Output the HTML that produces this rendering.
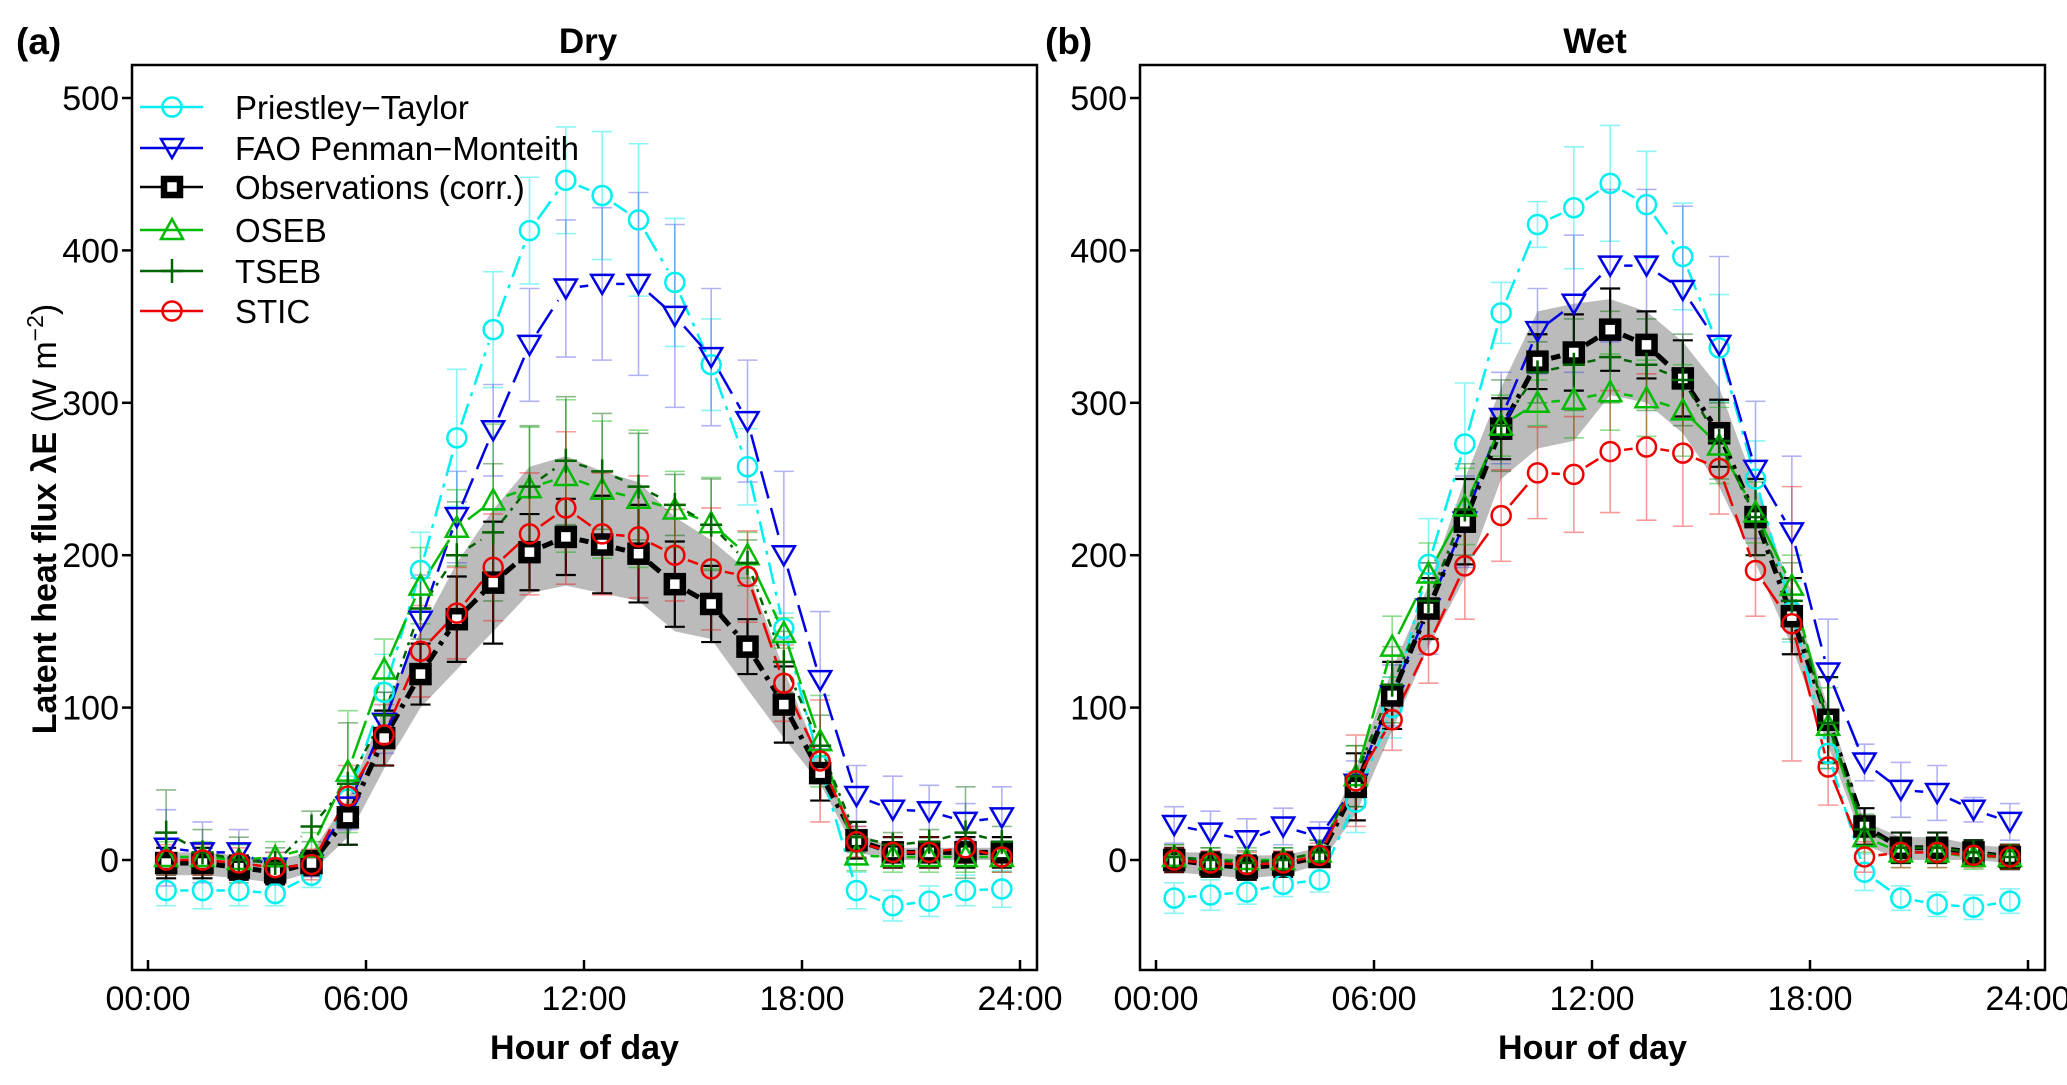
<!DOCTYPE html>
<html><head><meta charset="utf-8"><style>
body{margin:0;background:#fff}
svg{display:block;font-family:"Liberation Sans",Arial,sans-serif}
</style></head><body>
<svg id="fig" width="2067" height="1085" viewBox="0 0 2067 1085" xmlns="http://www.w3.org/2000/svg">
<rect width="2067" height="1085" fill="#fff"/>
</svg>
<script>
const hours=[0.5,1.5,2.5,3.5,4.5,5.5,6.5,7.5,8.5,9.5,10.5,11.5,12.5,13.5,14.5,15.5,16.5,17.5,18.5,19.5,20.5,21.5,22.5,23.5];
const yTicks=[0,100,200,300,400,500];
const xTickHours=[0,6,12,18,24];
const xTickLabels=["00:00","06:00","12:00","18:00","24:00"];
const seriesNames=["Priestley\u2212Taylor","FAO Penman\u2212Monteith","Observations (corr.)","OSEB","TSEB","STIC"];
// Dry
const dryPT=[-20,-20,-20,-22,-10,40,110,190,277,348,413,446,436,420,379,325,258,152,62,-20,-30,-27,-20,-19];
const dryFAO=[8,5,5,-5,-3,35,90,157,225,282,338,375,378,378,357,330,288,200,118,42,33,32,25,28];
const dryObs=[-2,-2,-5,-8,-2,28,80,122,158,182,202,212,207,201,181,168,140,102,57,13,5,5,5,5];
const dryOSEB=[2,2,0,2,8,58,125,180,218,236,244,252,243,237,230,221,200,149,78,3,2,2,2,2];
const dryTSEB=[18,5,0,-2,22,50,95,165,200,215,245,262,255,245,233,220,195,130,75,15,10,12,18,12];
const drySTIC=[0,0,-2,-5,-3,42,82,137,162,192,214,231,214,212,200,191,186,116,65,12,5,5,8,2];
const dryBandHi=[5,5,3,0,5,40,100,150,195,230,258,265,255,248,225,210,190,125,65,18,8,8,8,8];
const dryBandLo=[-10,-10,-12,-15,-8,15,60,100,125,150,175,180,175,170,150,145,112,80,50,5,0,0,0,0];
const dryErrPT=[10,12,10,8,8,15,25,25,45,38,35,35,42,50,42,30,25,10,10,12,10,10,10,12];
const dryErrFAO=[25,20,15,10,8,15,20,30,30,30,37,45,50,60,60,45,40,55,45,20,22,17,12,20];
const dryErrObs=[10,10,8,8,8,18,18,20,28,40,25,25,32,32,28,25,18,25,18,12,10,10,10,10];
const dryErrOSEB=[10,10,10,10,10,40,20,25,25,50,40,50,45,45,25,30,15,10,30,10,10,10,10,10];
const dryErrTSEB=[28,15,15,10,10,40,15,20,35,45,40,42,38,35,20,30,15,20,20,10,8,8,30,10];
const dryErrSTIC=[10,10,10,10,10,20,20,30,30,35,40,50,40,40,30,40,30,25,40,10,10,10,10,10];
// Wet
const wetPT=[-25,-23,-21,-16,-13,38,100,194,273,359,417,428,444,430,396,336,250,163,70,-8,-25,-29,-31,-27];
const wetFAO=[23,18,13,22,15,50,108,165,222,290,347,365,390,390,374,338,256,215,123,64,46,44,33,25];
const wetObs=[0,-3,-5,-3,2,48,108,165,222,283,327,333,348,338,316,280,225,160,92,22,8,8,5,2];
const wetOSEB=[2,0,0,0,5,55,140,188,232,285,300,302,307,303,295,272,228,180,88,15,5,5,2,2];
const wetTSEB=[2,0,-2,0,5,55,115,170,230,285,320,325,330,325,315,275,225,170,90,20,8,8,5,2];
const wetSTIC=[0,-2,-3,-2,3,52,92,141,193,226,254,253,268,271,267,257,190,155,61,2,5,5,3,2];
const wetBandHi=[5,5,3,3,8,60,125,180,250,310,360,365,368,360,340,310,245,175,100,25,15,15,10,8];
const wetBandLo=[-8,-10,-12,-10,-3,30,85,140,185,250,270,275,305,300,280,245,195,140,75,10,0,0,0,-2];
const wetErrPT=[10,10,8,8,8,20,20,30,40,20,15,40,38,35,35,35,25,20,10,12,8,8,8,8];
const wetErrFAO=[12,14,14,12,10,15,20,30,30,30,28,45,50,50,55,58,45,50,35,12,18,18,8,12];
const wetErrObs=[8,8,8,8,6,22,22,20,28,20,18,25,27,22,25,22,25,25,28,12,10,10,8,8];
const wetErrOSEB=[8,8,8,8,8,20,20,20,25,20,15,25,25,25,30,25,20,20,25,10,10,10,8,8];
const wetErrTSEB=[8,8,8,8,8,20,25,25,30,30,20,30,30,30,30,25,25,25,30,10,10,10,8,8];
const wetErrSTIC=[8,8,8,8,8,30,20,25,35,30,30,38,40,48,48,30,30,90,25,10,10,10,8,8];

const NS="http://www.w3.org/2000/svg";
const svg=document.getElementById('fig');
function el(tag,attrs,parent,text){const e=document.createElementNS(NS,tag);for(const k in attrs)e.setAttribute(k,attrs[k]);if(text!==undefined)e.textContent=text;(parent||svg).appendChild(e);return e;}

const styles=[
 {key:'PT',color:'#00f0f0',err:'rgba(0,230,230,0.45)',marker:'circle',dash:'22,8,4,8',w:2.5},
 {key:'FAO',color:'#0000e6',err:'rgba(60,60,230,0.4)',marker:'tri',dash:'28,10',w:2.5},
 {key:'Obs',color:'#000',err:'#000',marker:'square',dash:'14,7,4,7',w:5},
 {key:'OSEB',color:'#00bb00',err:'rgba(0,180,0,0.45)',marker:'uptri',dash:'40,6',w:2.5},
 {key:'TSEB',color:'#006400',err:'rgba(0,100,0,0.45)',marker:'plus',dash:'8,6,3,6',w:2.5},
 {key:'STIC',color:'#ee0000',err:'rgba(240,0,0,0.4)',marker:'circle',dash:'26,9',w:2.5}
];

function marker(g,type,x,y,color,name){
 let m;
 if(type==='circle')m=el('circle',{cx:x,cy:y,r:9.5,fill:'none',stroke:color,'stroke-width':2.5},g);
 else if(type==='tri')m=el('polygon',{points:`${x-11},${y-9} ${x+11},${y-9} ${x},${y+10}`,fill:'none',stroke:color,'stroke-width':2.5},g);
 else if(type==='uptri')m=el('polygon',{points:`${x-11},${y+9} ${x+11},${y+9} ${x},${y-11}`,fill:'none',stroke:color,'stroke-width':2.5},g);
 else if(type==='square')m=el('rect',{x:x-8,y:y-8,width:16,height:16,fill:'#fff',stroke:color,'stroke-width':6.5},g);
 else m=el('path',{d:`M${x-11},${y}H${x+11}M${x},${y-12}V${y+12}`,stroke:color,'stroke-width':2.5,fill:'none'},g);
 
 
}

function panel(p){
 const L=p.left,R=L+905,T=65,B=970;
 const xs=h=>p.x0+h*(218/6);
 const ys=v=>860-v*1.524;
 const g=el('g',{});
 
 
 let d='M'+hours.map((h,i)=>xs(h)+','+ys(p.bandHi[i])).join('L');
 for(let i=hours.length-1;i>=0;i--)d+='L'+xs(hours[i])+','+ys(p.bandLo[i]);
 const band=el('path',{d:d+'Z',fill:'#b4b4b4',opacity:0.9},g);
 
 
 styles.forEach((s,si)=>{
  const vals=p.series[si],errs=p.errs[si];
  const eg=el('g',{stroke:s.err,'stroke-width':s.key==='Obs'?2.2:1.6,fill:'none'},g);
  
  
  hours.forEach((h,i)=>{
   const x=xs(h),y1=ys(vals[i]+errs[i]),y2=ys(vals[i]-errs[i]);
   el('path',{d:`M${x},${y1}V${y2}M${x-10},${y1}H${x+10}M${x-10},${y2}H${x+10}`},eg);
  });
 });
 styles.forEach((s,si)=>{
  const vals=p.series[si];
  const lg=el('g',{stroke:s.color,'stroke-width':s.w,fill:'none','stroke-dasharray':s.dash},g);
  
  
  for(let i=0;i<hours.length-1;i++){
   const x1=xs(hours[i]),y1=ys(vals[i]),x2=xs(hours[i+1]),y2=ys(vals[i+1]);
   const len=Math.hypot(x2-x1,y2-y1),gap=14;
   if(len<=2*gap+2)continue;
   const ux=(x2-x1)/len,uy=(y2-y1)/len;
   el('line',{x1:x1+ux*gap,y1:y1+uy*gap,x2:x2-ux*gap,y2:y2-uy*gap},lg);
  }
 });
 styles.forEach((s,si)=>{
  const vals=p.series[si];
  const mg=el('g',{},g);
  
  
  hours.forEach((h,i)=>marker(mg,s.marker,xs(h),ys(vals[i]),s.color,'point'));
 });
 const fr=el('rect',{x:L,y:T,width:R-L,height:B-T,fill:'none',stroke:'#000','stroke-width':2.5},g);
 
 
 const ya=el('g',{'font-size':34,fill:'#000'},g);
 
 
 yTicks.forEach(v=>{
  el('line',{x1:L-10,x2:L,y1:ys(v),y2:ys(v),stroke:'#000','stroke-width':2.5},ya);
  el('text',{x:L-13,y:ys(v)+12,'text-anchor':'end'},ya,String(v));
 });
 const xa=el('g',{'font-size':34,fill:'#000'},g);
 
 
 xTickHours.forEach((h,i)=>{
  el('line',{x1:xs(h),x2:xs(h),y1:B,y2:B-10,stroke:'#000','stroke-width':2.5},xa);
  el('text',{x:xs(h),y:1010,'text-anchor':'middle'},xa,xTickLabels[i]);
 });
 const xt=el('text',{x:(L+R)/2,y:1059,'text-anchor':'middle','font-size':34,'font-weight':'bold'},g,'Hour of day');
 
 
 const tt=el('text',{x:p.titleX,y:53,'text-anchor':'middle','font-size':35,'font-weight':'bold'},g,p.title);
 
 
 const pl=el('text',{x:p.labelX,y:54,'font-size':37,'font-weight':'bold'},g,p.label);
 
 
 return {g,xs,ys};
}

panel({id:'dry',left:132,x0:148,title:'Dry',titleX:588,label:'(a)',labelX:16,
 series:[dryPT,dryFAO,dryObs,dryOSEB,dryTSEB,drySTIC],
 errs:[dryErrPT,dryErrFAO,dryErrObs,dryErrOSEB,dryErrTSEB,dryErrSTIC],
 bandHi:dryBandHi,bandLo:dryBandLo});
panel({id:'wet',left:1140,x0:1156,title:'Wet',titleX:1595,label:'(b)',labelX:1045,
 series:[wetPT,wetFAO,wetObs,wetOSEB,wetTSEB,wetSTIC],
 errs:[wetErrPT,wetErrFAO,wetErrObs,wetErrOSEB,wetErrTSEB,wetErrSTIC],
 bandHi:wetBandHi,bandLo:wetBandLo});

const yt=el('text',{transform:'translate(56,519) rotate(-90)','text-anchor':'middle','font-size':34},svg);


el('tspan',{'font-weight':'bold'},yt,'Latent heat flux \u03bbE ');
el('tspan',{},yt,'(W m');
el('tspan',{'font-size':23,dy:-13},yt,'\u22122');
el('tspan',{dy:13},yt,')');

const lgd=el('g',{},svg);


const legY=[107,148,187,230,271,311];
styles.forEach((s,i)=>{
 const e=el('g',{},lgd);
 
 
 el('line',{x1:140,x2:203,y1:legY[i],y2:legY[i],stroke:s.color,'stroke-width':2.5},e);
 marker(e,s.marker,172,legY[i],s.color,'legend-marker');
 el('text',{x:235,y:legY[i]+12,'font-size':33},e,seriesNames[i]);
});
</script>
</body></html>
